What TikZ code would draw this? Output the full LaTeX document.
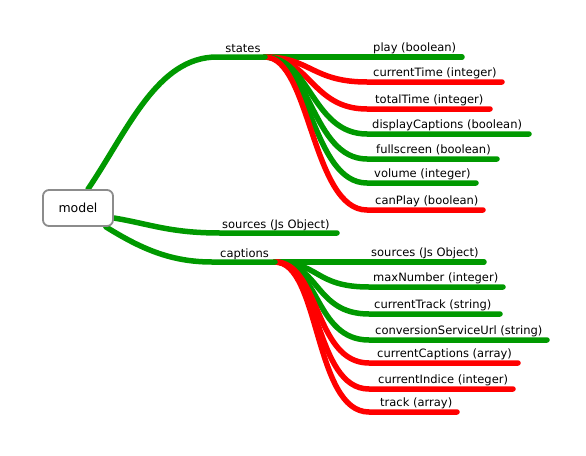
\documentclass[tikz,border=0pt]{standalone}
\usepackage{fontspec}
\setmainfont{DejaVu Sans}
\usetikzlibrary{calc}
\definecolor{mgreen}{RGB}{0,153,0}
\definecolor{mred}{RGB}{255,0,0}
\definecolor{boxgray}{RGB}{140,140,140}
\tikzset{
  branch/.style={line width=5.5pt, line cap=round},
  gb/.style={branch, draw=mgreen},
  lbl/.style={anchor=base west, inner sep=0pt, font=\fontsize{11.5}{13}\selectfont},
  clbl/.style={anchor=base, inner sep=0pt, font=\fontsize{11.5}{13}\selectfont},
  rootbox/.style={draw=boxgray, line width=1.8pt, rounded corners=6pt, fill=white,
    minimum width=70pt, minimum height=36pt, inner sep=0pt, font=\fontsize{12.5}{14}\selectfont}
}
\begin{document}
\begin{tikzpicture}[x=1pt, y=-1pt]
\useasboundingbox (0,0) rectangle (586,455);
% first level
\coordinate (st-a) at (217,57);
\coordinate (st) at (265,57);
\node[clbl] (stl) at (243,52.5) {states};
\coordinate (so-a) at (220,233);
\coordinate (so-b) at (337,233);
\node[lbl] (sol) at (222,228) {sources (Js Object)};
\coordinate (ca-a) at (212,262);
\coordinate (ca) at (275,262);
\node[lbl] (cal) at (220,257.5) {captions};
% states children
\foreach \i/\t/\lx/\y/\xe/\c in {
 1/play (boolean)/373/57/462/mgreen,
 2/currentTime (integer)/373/82/502/mred,
 3/totalTime (integer)/375/109/490/mred,
 4/displayCaptions (boolean)/372/134/529/mgreen,
 5/fullscreen (boolean)/376/159/497/mgreen,
 6/volume (integer)/374/183/476/mgreen,
 7/canPlay (boolean)/375/210/483/mred}
{
 \coordinate (s\i-a) at (367,\y);
 \coordinate (s\i-b) at (\xe,\y);
 \node[lbl] (s\i) at (\lx,\y-5.5) {\t};
 \draw[branch, draw=\c] (st) .. controls ($(st)+(45,0)$) and ($(s\i-a)+(-55,0)$) .. (s\i-a) -- (s\i-b);
}
% captions children
\foreach \i/\t/\lx/\y/\xe/\c in {
 1/sources (Js Object)/371/262/484/mgreen,
 2/maxNumber (integer)/373/287/503/mgreen,
 3/currentTrack (string)/374/314/500/mgreen,
 4/conversionServiceUrl (string)/375/340/547/mgreen,
 5/currentCaptions (array)/377/363/518/mred,
 6/currentIndice (integer)/378/389/513/mred,
 7/track (array)/380/412/457/mred}
{
 \coordinate (c\i-a) at (369,\y);
 \coordinate (c\i-b) at (\xe,\y);
 \node[lbl] (c\i) at (\lx,\y-5.5) {\t};
 \draw[branch, draw=\c] (ca) .. controls ($(ca)+(45,0)$) and ($(c\i-a)+(-55,0)$) .. (c\i-a) -- (c\i-b);
}
% root
\node[rootbox, draw=none, fill=none] (model0) at (78,208) {};
\draw[gb] ($(model0.north)+(10,0)$) .. controls (128,130) and (157,57) .. (st-a) -- (st);
\draw[gb] ($(model0.east)+(0,10)$) .. controls (150,224) and (170,233) .. (so-a) -- (so-b);
\draw[gb] ($(model0.south east)+(-8,0)$) .. controls (140,248) and (170,262) .. (ca-a) -- (ca);
\node[rootbox] (model) at (78,208) {model};
\end{tikzpicture}
\end{document}
